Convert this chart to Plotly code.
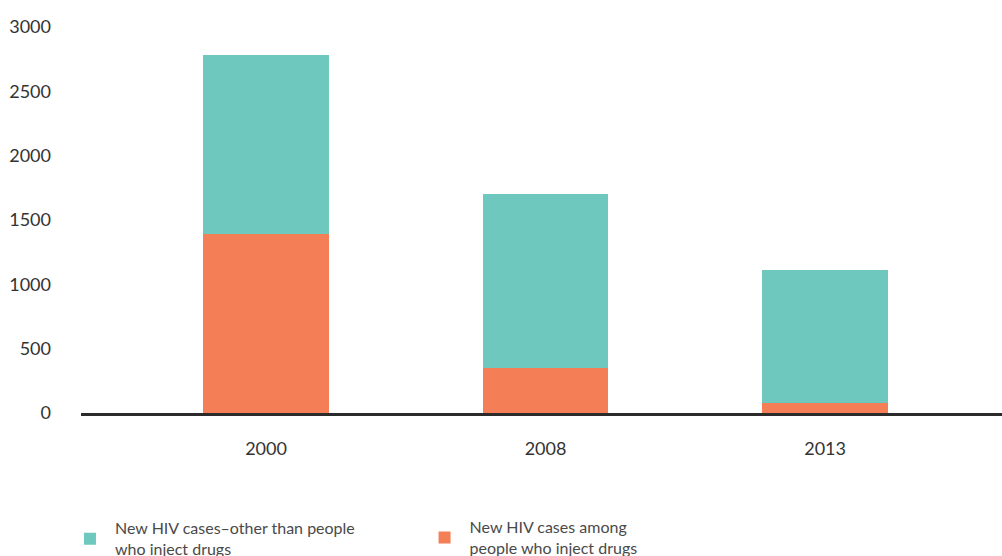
import plotly.graph_objects as go

years = ["2000", "2008", "2013"]
pwid_cases = [1390, 350, 80]
other_cases = [1390, 1350, 1030]
y_ticks = [0, 500, 1000, 1500, 2000, 2500, 3000]

name_other = "New HIV cases–other than people<br>who inject drugs"
name_pwid = "New HIV cases among<br>people who inject drugs"

teal = "#6fc8bd"
orange = "#f47f57"
FONT = "Lato"

fig = go.Figure()
fig.add_trace(go.Bar(x=years, y=pwid_cases, name=name_pwid, marker_color=orange,
                     marker_line_width=0, width=0.45, legend="legend2", showlegend=True))
fig.add_trace(go.Bar(x=years, y=other_cases, name=name_other, marker_color=teal,
                     marker_line_width=0, width=0.45, legend="legend", showlegend=True))

fig.update_layout(
    width=1002, height=556,
    barmode="stack",
    showlegend=True,
    plot_bgcolor="white", paper_bgcolor="white",
    margin=dict(l=81, r=0, t=27, b=143, pad=0, autoexpand=False),
    font=dict(family=FONT, size=18, color="#333333"),
    legend=dict(orientation="v", x=-0.0174, xanchor="left", y=-0.2548, yanchor="top",
                font=dict(family=FONT, size=16, color="#4a4a4a"),
                bgcolor="rgba(0,0,0,0)", valign="middle", itemwidth=40),
    legend2=dict(orientation="v", x=0.3676, xanchor="left", y=-0.252, yanchor="top",
                 font=dict(family=FONT, size=16, color="#4a4a4a"),
                 bgcolor="rgba(0,0,0,0)", valign="middle", itemwidth=40),
    xaxis=dict(type="category", range=[-0.662, 2.633], showline=True,
               linecolor="#2b2b2b", linewidth=2.5, showgrid=False, zeroline=False,
               ticks="", ticklabelstandoff=18, tickfont=dict(size=18, color="#333333")),
    yaxis=dict(range=[0, 3000], tickvals=y_ticks, showgrid=False, zeroline=False,
               showline=False, ticks="", ticklabelstandoff=29,
               tickfont=dict(size=18, color="#333333")),
)

fig.write_html("out.html", config={"displayModeBar": False},
               post_script="document.body.style.margin='0';")
